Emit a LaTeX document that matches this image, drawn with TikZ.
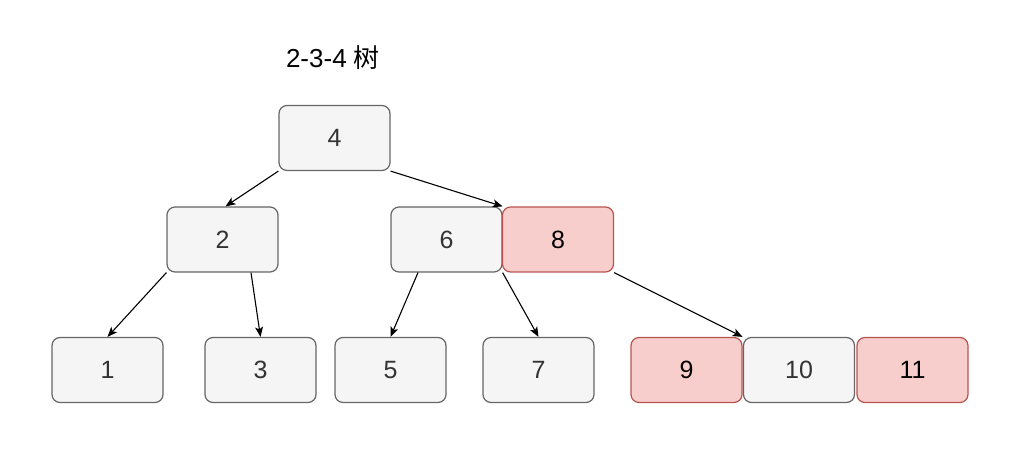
\documentclass[tikz,border=0pt]{standalone}
\usepackage{fontspec}
\setmainfont{Liberation Sans}
\newfontfamily\cjk{Noto Sans CJK SC}
\usetikzlibrary{arrows.meta,calc}
\definecolor{greyfill}{HTML}{F5F5F5}
\definecolor{greyline}{HTML}{666666}
\definecolor{greytext}{HTML}{333333}
\definecolor{redfill}{HTML}{F8CECC}
\definecolor{redline}{HTML}{B85450}
\begin{document}
\begin{tikzpicture}[x=1pt,y=-1pt,
  key/.style={draw, rounded corners=8pt, minimum width=111pt, minimum height=65pt,
    inner sep=0pt, line width=1.2pt, font=\fontsize{25}{28}\selectfont},
  greykey/.style={key, fill=greyfill, draw=greyline, text=greytext},
  redkey/.style={key, fill=redfill, draw=redline, text=black},
  link/.style={-{Stealth[length=10pt,width=8pt,inset=2.5pt]}, line width=1.1pt, black}]
\useasboundingbox (0,0) rectangle (1018,454);

% title
\node (title) at (333,58) {\fontsize{26}{30}\selectfont 2-3-4 {\cjk 树}};

% root
\node[greykey] (n4) at (334.5,138) {4};

% middle level
\node[greykey] (n2) at (222.5,239.5) {2};
\node[greykey] (n6) at (446.5,239.5) {6};
\node[redkey]  (n8) at (558,239.5) {8};

% leaves
\node[greykey] (n1)  at (107.5,370) {1};
\node[greykey] (n3)  at (260.5,370) {3};
\node[greykey] (n5)  at (390.5,370) {5};
\node[greykey] (n7)  at (538.5,370) {7};
\node[redkey]  (n9)  at (686.5,370) {9};
\node[greykey] (n10) at (799,370) {10};
\node[redkey]  (n11) at (912.5,370) {11};

% child links
\draw[link] (n4.south west) -- ($(n2.north)+(3,0)$);
\draw[link] (n4.south east) -- (n6.north east);
\draw[link] (n2.south west) -- (n1.north);
\draw[link] ($(n2.south)+(28.5,0)$) -- (n3.north);
\draw[link] ($(n6.south)+(-28.5,0)$) -- (n5.north);
\draw[link] (n6.south east) -- (n7.north);
\draw[link] (n8.south east) -- (n9.north east);
\end{tikzpicture}
\end{document}
